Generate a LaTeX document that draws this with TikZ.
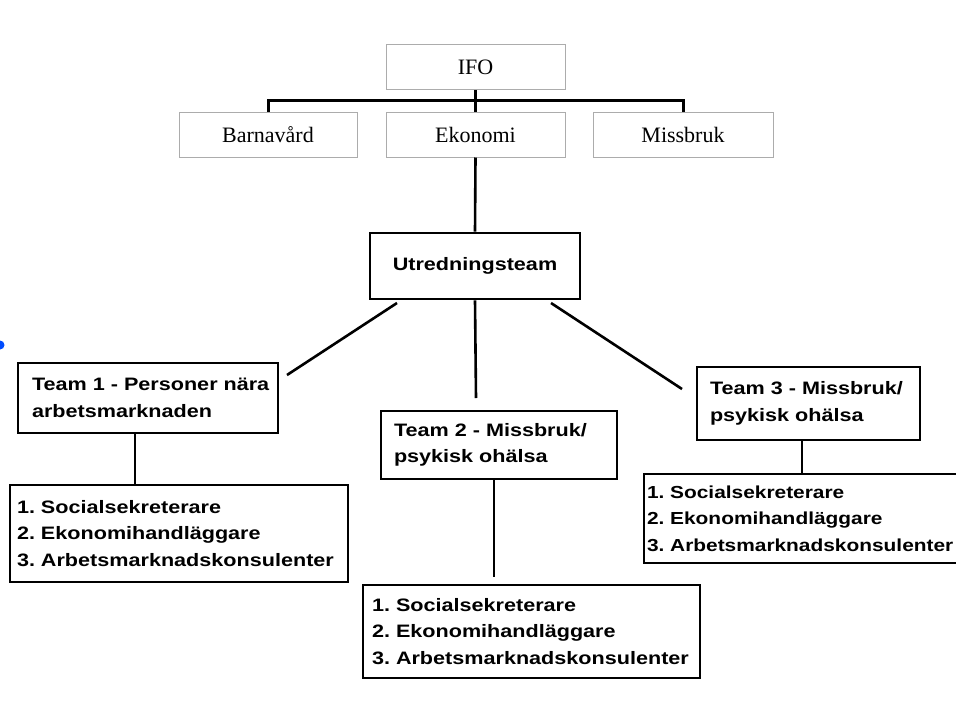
\documentclass[tikz,border=0pt]{standalone}
\usepackage{fontspec}
\newfontfamily\orgserif{Liberation Serif}
\newfontfamily\orgsans{Liberation Sans}[FakeStretch=1.2]
\usetikzlibrary{positioning}
\frenchspacing

\begin{document}
\begin{tikzpicture}[x=1pt,y=-1pt,
  topbox/.style={draw=gray!65, line width=1pt, inner sep=0pt,
    minimum height=45, font=\fontsize{22}{26}\orgserif},
  teambox/.style={draw, line width=2.6pt, inner ysep=0pt, align=left,
    font=\fontsize{18}{26.5}\orgsans\bfseries},
  link/.style={line width=2.6pt},
  barlink/.style={line width=3pt}]
\useasboundingbox (0,0) rectangle (956,702);
% top level
\node[topbox, minimum width=179] (ifo) at (475.5,67) {IFO};
\node[topbox, minimum width=178] (barn) at (268,134.5) {Barnavård};
\node[topbox, minimum width=179] (eko) at (475.5,134.5) {Ekonomi};
\node[topbox, minimum width=180] (miss) at (683,134.5) {Missbruk};
\draw[barlink] (barn.north) -- ++(0,-11) -| (miss.north);
\draw[barlink] (ifo.south) -- (eko.north);
% team level
\node[teambox, minimum width=210, minimum height=66, align=center] (utr) at (475,266) {Utredningsteam};
\node[teambox, inner xsep=14pt, text width=232pt, minimum height=70] (team1) at (148,398)
  {\mbox{Team 1 - Personer nära}\\arbetsmarknaden};
\node[teambox, inner xsep=13pt, text width=210pt, minimum height=68] (team2) at (499,445)
  {Team 2 - Missbruk/\\psykisk ohälsa};
\node[teambox, inner xsep=13pt, text width=197pt, minimum height=73] (team3) at (808.5,403.5)
  {Team 3 - Missbruk/\\psykisk ohälsa};
% staff lists
\node[teambox, inner xsep=7pt, text width=324pt, minimum height=97] (list1) at (179,533.5)
  {1. Socialsekreterare\\2. Ekonomihandläggare\\\mbox{3. Arbetsmarknadskonsulenter}};
\node[teambox, inner xsep=9pt, text width=319pt, minimum height=93] (list2) at (531.5,631.5)
  {1. Socialsekreterare\\2. Ekonomihandläggare\\\mbox{3. Arbetsmarknadskonsulenter}};
\node[teambox, inner xsep=3pt, text width=331pt, minimum height=89,
  font=\fontsize{17.4}{26.5}\orgsans\bfseries] (list3) at (812.5,518.5)
  {1. Socialsekreterare\\2. Ekonomihandläggare\\\mbox{3. Arbetsmarknadskonsulenter}};
% connectors
\coordinate (u1) at (397,303);
\coordinate (u3) at (551,303);
\coordinate (t1) at (287,375);
\coordinate (t2) at (476,398);
\coordinate (t3) at (682,389);
\coordinate (l2) at (494,577);
\draw[link] (eko.south) -- (utr.north);
\draw[link] (u1) -- (t1);
\draw[link] (utr.south) -- (t2);
\draw[link] (u3) -- (t3);
\draw[link] ([xshift=-13pt]team1.south) -- ([xshift=-13pt]team1.south |- list1.north);
\draw[link] ([xshift=-5pt]team2.south) -- (l2);
\draw[link] ([xshift=-6.5pt]team3.south) -- ([xshift=-6.5pt]team3.south |- list3.north);
% blue mark at the left edge
\fill[blue!70!cyan] (0,345) circle (4.5);
\end{tikzpicture}
\end{document}
